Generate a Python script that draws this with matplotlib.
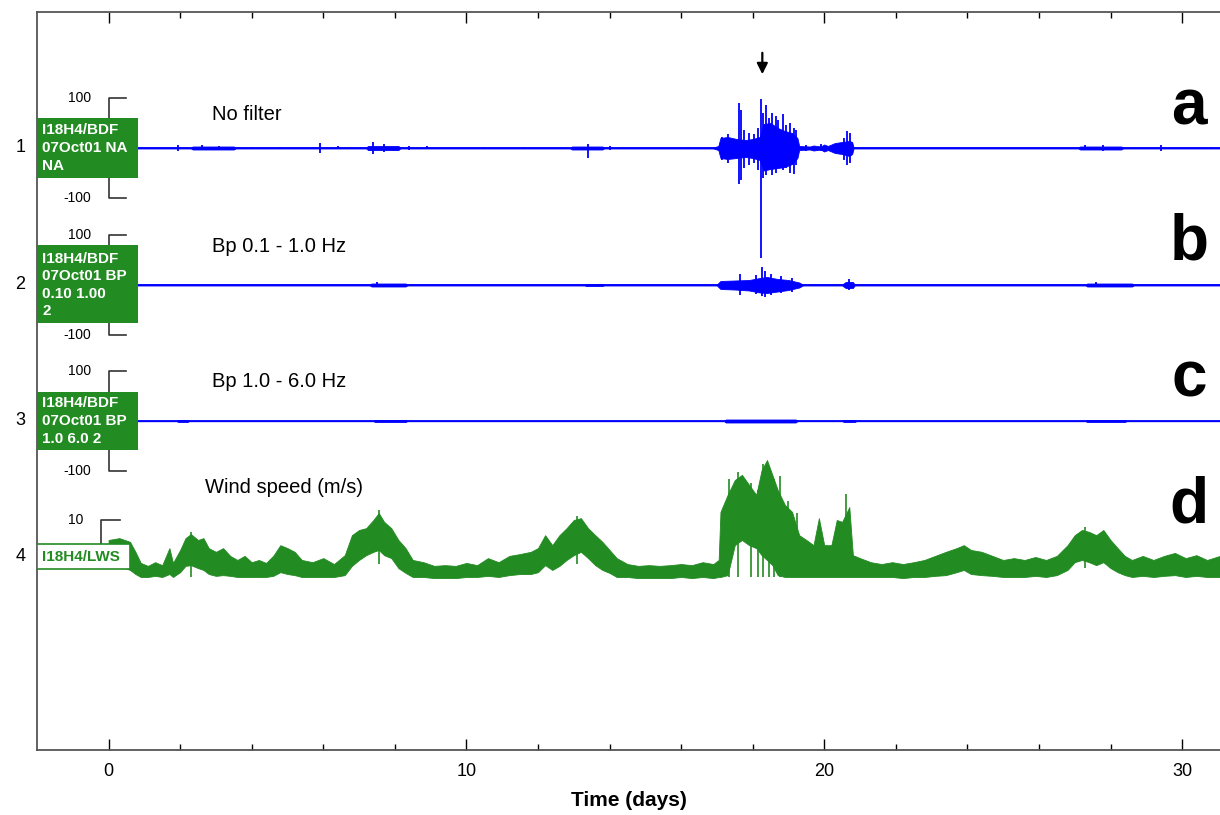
import numpy as np
import matplotlib.pyplot as plt
from matplotlib.patches import Rectangle

plt.rcParams['font.family'] = ['Liberation Sans', 'DejaVu Sans']

BLUE = '#0000ff'
GREEN = '#228b22'

# channel 1, no filter: envelope of the pressure trace (counts)
t_raw = [0, 1.5, 2.3, 2.35, 3.5, 3.55, 7.2, 7.25, 8.1, 8.15, 12.9, 12.95, 13.8, 13.85,
         16.9, 17.04, 17.1, 17.3, 17.55, 17.8, 18.0, 18.2, 18.3, 18.5, 18.7, 18.9, 19.1,
         19.25, 19.3, 19.6, 19.7, 19.9, 20.0, 20.1, 20.3, 20.5, 20.7, 20.78, 20.82,
         27.1, 27.15, 28.3, 28.35, 31.1]
raw_hi = [1, 1, 1, 3, 3, 1, 1, 4, 4, 1, 1, 3, 3, 1,
          1, 4, 20, 22, 18, 16, 18, 22, 48, 50, 40, 34, 30,
          20, 4, 3, 5, 3, 7, 4, 10, 12, 14, 12, 1,
          1, 3, 3, 1, 1]
raw_lo = [1, 1, 1, 3, 3, 1, 1, 4, 4, 1, 1, 3, 3, 1,
          1, 4, 20, 22, 20, 18, 20, 24, 45, 42, 40, 38, 32,
          20, 4, 3, 5, 3, 7, 4, 10, 12, 16, 12, 1,
          1, 3, 3, 1, 1]
# single swings: small bursts and the largest excursions of the event
spk_raw_t = [1.93, 2.6, 3.1, 4.0, 4.8, 5.92, 6.4, 7.4, 7.7, 8.4, 8.9, 10.5, 11.6, 13.4, 14.0,
             16.2, 17.15, 17.3, 17.62, 17.68, 17.75, 17.9, 18.05, 18.15, 18.24, 18.3,
             18.38, 18.45, 18.55, 18.65, 18.72, 18.85, 18.92, 19.05, 19.15, 19.22, 19.5,
             19.9, 20.55, 20.65, 20.72, 27.3, 27.8, 29.4, 30.8]
spk_raw_hi = [6, 5, 4, 2, 2, 10, 3, 12, 8, 4, 3, 2, 2, 8, 4,
              2, 22, 28, 90, 75, 35, 30, 28, 40, 98, 70,
              86, 60, 70, 64, 55, 68, 45, 50, 40, 35, 6,
              7, 20, 33, 30, 5, 6, 6, 2]
spk_raw_lo = [-6, -5, -4, -2, -2, -10, -3, -12, -8, -4, -3, -2, -2, -20, -4,
              -2, -25, -30, -72, -65, -40, -35, -30, -45, -220, -60,
              -55, -45, -55, -50, -40, -45, -40, -50, -52, -35, -6,
              -7, -25, -35, -30, -5, -6, -6, -2]

# channel 2, band pass 0.1 - 1.0 Hz
t_bp1 = [0, 7.3, 7.35, 8.3, 8.35, 13.3, 13.35, 13.8, 13.85, 17.0, 17.1, 17.5, 17.9, 18.2,
         18.4, 18.7, 19.0, 19.3, 19.4, 20.5, 20.6, 20.8, 20.85, 27.3, 27.35, 28.6, 28.65, 31.1]
bp1_hi = [1, 1, 3, 3, 1, 1, 2, 2, 1, 1, 8, 9, 10, 14, 16, 12, 10, 5, 1, 1, 6, 6, 1, 1, 3, 3, 1, 1]
bp1_lo = [1, 1, 3, 3, 1, 1, 2, 2, 1, 1, 8, 9, 11, 15, 16, 13, 10, 5, 1, 1, 6, 6, 1, 1, 3, 3, 1, 1]
spk_bp1_t = [7.5, 17.65, 18.1, 18.25, 18.35, 18.5, 18.8, 19.1, 20.7, 27.6]
spk_bp1_hi = [5, 22, 20, 36, 28, 22, 18, 14, 12, 5]
spk_bp1_lo = [-5, -20, -18, -22, -24, -20, -16, -14, -10, -5]

# channel 3, band pass 1.0 - 6.0 Hz
t_bp2 = [0, 1.9, 1.95, 2.2, 2.25, 7.4, 7.45, 8.3, 8.35, 17.2, 17.25, 19.2, 19.25, 20.5,
         20.55, 20.85, 20.9, 27.3, 27.35, 28.4, 28.45, 31.1]
bp2_hi = [0.5, 0.5, 2, 2, 0.5, 0.5, 2, 2, 0.5, 0.5, 3, 3, 0.5, 0.5, 2, 2, 0.5, 0.5, 2, 2, 0.5, 0.5]
bp2_lo = [0.5, 0.5, 2, 2, 0.5, 0.5, 2, 2, 0.5, 0.5, 3, 3, 0.5, 0.5, 2, 2, 0.5, 0.5, 2, 2, 0.5, 0.5]

# channel 4, wind speed about the trace baseline (m/s): upper / lower edge of the trace
t_wind = [0.0, 0.3, 0.6, 0.75, 0.9, 1.1, 1.3, 1.5, 1.7, 1.8,
          2.0, 2.15, 2.3, 2.5, 2.65, 2.8, 3.0, 3.2, 3.4, 3.6,
          3.8, 4.0, 4.2, 4.4, 4.6, 4.8, 5.0, 5.2, 5.4, 5.7,
          6.0, 6.3, 6.6, 6.8, 7.0, 7.2, 7.4, 7.55, 7.7, 7.9,
          8.1, 8.3, 8.5, 8.8, 9.1, 9.4, 9.7, 10.0, 10.3, 10.6,
          10.9, 11.2, 11.5, 11.8, 12.0, 12.2, 12.4, 12.6, 12.8, 13.0,
          13.2, 13.4, 13.6, 13.8, 14.0, 14.2, 14.5, 14.8, 15.1, 15.4,
          15.7, 16.0, 16.3, 16.6, 16.9, 17.05, 17.1, 17.3, 17.5, 17.7,
          17.9, 18.1, 18.25, 18.4, 18.55, 18.7, 18.9, 19.1, 19.3, 19.5,
          19.7, 19.85, 20.0, 20.2, 20.35, 20.5, 20.7, 20.8, 21.0, 21.3,
          21.6, 21.9, 22.2, 22.5, 22.8, 23.1, 23.4, 23.7, 23.9, 24.1,
          24.4, 24.7, 25.0, 25.3, 25.6, 25.9, 26.2, 26.5, 26.8, 27.0,
          27.2, 27.4, 27.6, 27.8, 28.0, 28.2, 28.4, 28.6, 28.9, 29.2,
          29.5, 29.8, 30.1, 30.4, 30.7, 31.06]
wind_hi = [4.6, 5.1, 4.1, 1.4, -1.6, -2.4, -1.4, -2.2, 2.4, -1.6,
           1.9, 5.1, 6.2, 4.6, 5.1, 2.4, 1.4, 2.4, 0.3, -0.8,
           0.3, -1.4, -0.8, -1.6, 0.3, 3.2, 2.4, 1.4, -0.8, -1.4,
           -0.3, -1.9, 0.5, 5.9, 7.3, 7.8, 10.0, 11.9, 9.5, 7.8,
           4.6, 2.4, -0.8, -1.4, -2.4, -2.2, -2.4, -1.6, -2.2, -0.3,
           -1.4, 0.3, 0.8, 1.4, 2.4, 5.9, 3.2, 5.9, 7.8, 10.0,
           10.5, 7.8, 5.9, 4.1, 1.9, -0.3, -1.9, -2.4, -2.2, -2.4,
           -2.2, -1.9, -2.2, -1.4, -1.9, -0.8, 12.2, 16.8, 20.8, 22.2,
           19.5, 16.8, 23.5, 26.2, 22.2, 18.1, 14.1, 12.2, 5.9, 4.6,
           3.2, 10.5, 3.2, 3.2, 10.0, 9.5, 13.5, 0.5, -0.3, -1.4,
           -1.9, -1.4, -1.9, -1.4, -0.8, 0.3, 1.4, 2.4, 3.2, 1.9,
           1.4, 0.3, -0.8, -0.3, -0.8, 0.0, -0.8, 0.3, 3.2, 5.9,
           7.3, 6.8, 5.9, 7.3, 4.6, 2.4, 0.3, -0.8, 0.3, -0.8,
           0.3, 1.1, -0.3, 0.5, -0.8, 0.3]
wind_lo = [-3.0, -2.4, -3.5, -4.6, -5.4, -5.4, -5.1, -5.4, -4.6, -5.4,
           -4.1, -2.4, -2.2, -3.0, -3.5, -4.6, -5.1, -4.9, -5.1, -5.4,
           -5.4, -5.4, -5.4, -5.4, -5.1, -4.1, -4.6, -4.9, -5.4, -5.4,
           -5.4, -5.4, -4.9, -2.4, -0.8, 0.5, 1.4, 1.9, 0.5, -0.3,
           -3.0, -4.3, -5.4, -5.4, -5.7, -5.7, -5.7, -5.4, -5.4, -5.1,
           -5.4, -4.9, -4.6, -4.6, -4.1, -2.2, -3.5, -2.4, -0.8, 0.5,
           1.4, -0.3, -2.2, -3.5, -4.3, -5.4, -5.4, -5.7, -5.7, -5.7,
           -5.7, -5.4, -5.7, -5.4, -5.7, -5.4, -5.4, -4.9, 3.2, 4.6,
           3.2, 2.4, 0.5, -0.8, -2.2, -4.9, -5.4, -5.4, -5.4, -5.4,
           -5.4, -5.4, -5.4, -5.4, -5.4, -5.4, -5.4, -5.4, -5.4, -5.4,
           -5.4, -5.4, -5.7, -5.4, -5.4, -5.1, -4.9, -4.1, -3.5, -4.6,
           -4.9, -5.1, -5.4, -5.4, -5.4, -5.1, -5.4, -4.9, -3.5, -1.4,
           -0.8, -1.4, -2.2, -1.4, -3.0, -4.1, -4.9, -5.4, -5.1, -5.4,
           -5.1, -4.9, -5.4, -5.1, -5.4, -5.4]
spk_wind_t = [2.3, 7.55, 13.1, 17.35, 17.6, 17.95, 18.15, 18.3, 18.45, 18.6, 18.75,
              19.0, 19.25, 20.6, 27.3]
spk_wind_hi = [6.8, 12.7, 11.0, 21, 23, 20, 18, 25, 24, 21, 22, 15, 12, 17, 8.0]
spk_wind_lo = [-5.4, -2.0, -2.0, -5.4, -5.4, -5.4, -5.4, -5.4, -5.4, -5.4, -5.4,
               -5.4, -5.4, -5.4, -3.0]

channel_ids = ['1', '2', '3', '4']
channel_tags = ['I18H4/BDF\n07Oct01 NA\nNA',
                'I18H4/BDF\n07Oct01 BP\n0.10 1.00\n2',
                'I18H4/BDF\n07Oct01 BP\n1.0 6.0 2',
                'I18H4/LWS']
channel_titles = ['No filter', 'Bp 0.1 - 1.0 Hz', 'Bp 1.0 - 6.0 Hz', 'Wind speed (m/s)']
panel_letters = ['a', 'b', 'c', 'd']

# vertical layout (axis units = screen pixels, downward negative)
centers = [-148, -285, -421, -557]
gain_p = 0.5      # per count
gain_w = 3.7      # per m/s

fig = plt.figure(figsize=(12.2, 8.15), dpi=100)
ax = fig.add_axes([37 / 1220, 65 / 815, 1 - 37 / 1220, 738 / 815])
ax.set_xlim(-2, 31.06)
ax.set_ylim(-750, -12)


def trace(c, t, hi, lo, g, color, st=None, shi=None, slo=None):
    t = np.asarray(t)
    ax.plot([t[0], t[-1]], [c, c], color=color, lw=1.3, zorder=2)
    ax.fill_between(t, c + np.asarray(hi) * g, c - np.asarray(lo) * g,
                    color=color, lw=0.6, zorder=2)
    if st is not None:
        ax.vlines(st, c + np.asarray(slo) * g, c + np.asarray(shi) * g,
                  color=color, lw=1.3, zorder=2)


trace(centers[0], t_raw, raw_hi, raw_lo, gain_p, BLUE, spk_raw_t, spk_raw_hi, spk_raw_lo)
trace(centers[1], t_bp1, bp1_hi, bp1_lo, gain_p, BLUE, spk_bp1_t, spk_bp1_hi, spk_bp1_lo)
trace(centers[2], t_bp2, bp2_hi, bp2_lo, gain_p, BLUE)
wc = centers[3]
ax.fill_between(t_wind, wc + np.asarray(wind_hi) * gain_w, wc + np.asarray(wind_lo) * gain_w,
                color=GREEN, lw=0.6, zorder=2)
ax.vlines(spk_wind_t, wc + np.asarray(spk_wind_lo) * gain_w, wc + np.asarray(spk_wind_hi) * gain_w,
          color=GREEN, lw=1.2, zorder=2)

# channel boxes, scale brackets and labels
box_half = [(30, 30), (40, 38), (29, 29), (13, 12)]
for i, c in enumerate(centers):
    up, dn = box_half[i]
    if i < 3:
        bx, tx = 0.0, 0.5
        ax.plot([tx, bx, bx], [c + 50, c + 50, c + up], color='#333333', lw=1.2, zorder=3)
        ax.plot([tx, bx, bx], [c - 50, c - 50, c - dn], color='#333333', lw=1.2, zorder=3)
        ax.text(-0.5, c + 50, '100', ha='right', va='center', fontsize=10)
        ax.text(-0.5, c - 50, '-100', ha='right', va='center', fontsize=10)
        ax.add_patch(Rectangle((-2, c - dn), 2.83, up + dn, facecolor=GREEN,
                               edgecolor='none', zorder=4))
        ax.text(-1.85, c, channel_tags[i], color='white', fontsize=11, fontweight='bold',
                ha='left', va='center', linespacing=1.32, zorder=5)
    else:
        bx, tx = -0.2, 0.33
        top = c + 10 * gain_w
        ax.plot([tx, bx, bx], [top, top, c + up], color='#333333', lw=1.2, zorder=3)
        ax.text(-0.7, top, '10', ha='right', va='center', fontsize=10)
        ax.add_patch(Rectangle((-2, c - dn), 2.6, up + dn, facecolor='white',
                               edgecolor=GREEN, lw=1.2, zorder=4))
        ax.text(-1.85, c, channel_tags[i], color=GREEN, fontsize=11, fontweight='bold',
                ha='left', va='center', zorder=5)
    ax.text(-2.46, c, channel_ids[i], ha='center', va='center', fontsize=13, clip_on=False)

title_pos = [(2.9, -115), (2.9, -247), (2.9, -382), (2.7, -488)]
for (x, y), s in zip(title_pos, channel_titles):
    ax.text(x, y, s, ha='left', va='center', fontsize=14.5)

letter_base = [-125, -260, -397, -523]
for y, s in zip(letter_base, panel_letters):
    ax.text(30.2, y, s, ha='center', va='baseline', fontsize=46, fontweight='bold')

# event marker
ax.annotate('', xy=(18.27, -77), xytext=(18.27, -50),
            arrowprops=dict(arrowstyle='-|>', color='black', lw=1.6, mutation_scale=16))

ax.set_xticks([0, 10, 20, 30])
ax.set_xticks(np.arange(2, 31, 2), minor=True)
ax.set_yticks([])
ax.tick_params(axis='x', which='both', direction='in', top=True, bottom=True,
               labelsize=13, pad=9, color='black')
ax.tick_params(axis='x', which='major', length=8, width=1)
ax.tick_params(axis='x', which='minor', length=4, width=1)
ax.spines['right'].set_visible(False)
for s in ['left', 'top', 'bottom']:
    ax.spines[s].set_color('#555555')
    ax.spines[s].set_linewidth(1.3)
ax.set_xlabel('Time (days)', fontsize=15, fontweight='bold', labelpad=8)

fig.savefig('out.png', dpi=100)
